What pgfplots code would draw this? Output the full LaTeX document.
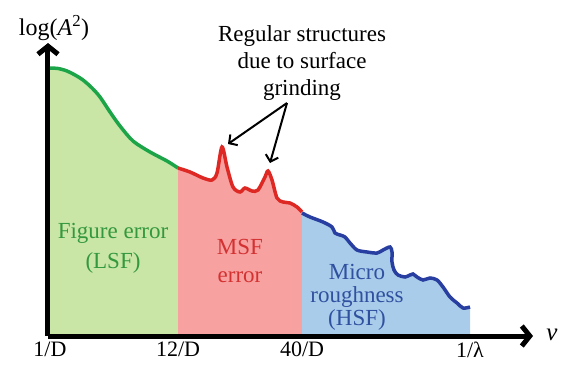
\documentclass[border=0pt]{standalone}
\usepackage{pgfplots}
\pgfplotsset{compat=1.18}
\usetikzlibrary{arrows.meta}
\usepackage{fontspec}
\setmainfont{Liberation Serif}
\definecolor{gfill}{RGB}{201,230,166}
\definecolor{rfill}{RGB}{247,161,161}
\definecolor{bfill}{RGB}{168,204,234}
\definecolor{gline}{RGB}{28,165,72}
\definecolor{rline}{RGB}{222,40,35}
\definecolor{bline}{RGB}{40,62,160}
\definecolor{gtext}{RGB}{52,152,62}
\definecolor{rtext}{RGB}{212,50,50}
\definecolor{btext}{RGB}{48,80,160}
\begin{document}
\begin{tikzpicture}
\begin{axis}[
  x=1pt, y=1pt,
  xmin=48, xmax=533, ymin=29, ymax=322,
  axis lines=left,
  axis on top,
  clip=false,
  axis line style={line width=5pt, -{Straight Barb[length=8pt,width=20pt]}},
  xtick={50,178,302,470},
  xticklabels={1/D,12/D,40/D,1/λ},
  ytick=\empty,
  major tick length=0pt,
  xticklabel style={font=\fontsize{22}{24}\selectfont, anchor=north, yshift=-2pt},
]
\path (axis cs:0,0) rectangle (axis cs:561,365);
% fills
\addplot[draw=none, fill=gfill, smooth, tension=0.5] coordinates {
(48,297)(58,296.5)(67,294)(75,290)(83,285)(92,277)(100,268)(110,253)(120,239)(133,224)(150,213)(167,204)(178,197)} \closedcycle;
\addplot[draw=none, fill=rfill, smooth, tension=0.5] coordinates {
(178,197)(190,193)(203,187)(212,185)(217,192)(222,218)(227,198)(233,178)(240,173)(245,177)(252,174)(258,175)(265,188)(268,194)(272,185)(277,167)(283,163)(290,162)(297,158)(302,153)} \closedcycle;
\addplot[draw=none, fill=bfill, smooth, tension=0.5] coordinates {
(302,152)(310,148)(323,143)(332,138)(335,132)(340,130)(345,128)(350,122)(357,115)(367,113)(377,112)(383,115)(390,118)(392,113)(392,103)(394,95)(398,90)(405,88)(410,90)(413,91)(417,88)(423,85)(430,87)(437,85)(443,78)(450,68)(457,62)(463,57)(470,58)} \closedcycle;
% lines
\addplot[gline, line width=3.5pt, smooth, tension=0.5] coordinates {
(48,297)(58,296.5)(67,294)(75,290)(83,285)(92,277)(100,268)(110,253)(120,239)(133,224)(150,213)(167,204)(178,197)};
\addplot[rline, line width=3.5pt, smooth, tension=0.5] coordinates {
(178,197)(190,193)(203,187)(212,185)(217,192)(222,218)(227,198)(233,178)(240,173)(245,177)(252,174)(258,175)(265,188)(268,194)(272,185)(277,167)(283,163)(290,162)(297,158)(302,153)};
\addplot[bline, line width=3.5pt, smooth, tension=0.5] coordinates {
(302,152)(310,148)(323,143)(332,138)(335,132)(340,130)(345,128)(350,122)(357,115)(367,113)(377,112)(383,115)(390,118)(392,113)(392,103)(394,95)(398,90)(405,88)(410,90)(413,91)(417,88)(423,85)(430,87)(437,85)(443,78)(450,68)(457,62)(463,57)(470,58)};
% text
\node[gtext, align=center, font=\fontsize{23}{30}\selectfont] at (axis cs:113,117) {Figure error\\(LSF)};
\node[rtext, align=center, font=\fontsize{23}{28}\selectfont] at (axis cs:240,104) {MSF\\error};
\node[btext, align=center, font=\fontsize{23}{23}\selectfont] at (axis cs:357,68) {Micro\\roughness\\(HSF)};
\node[align=center, font=\fontsize{23}{27}\selectfont] at (axis cs:302,302) {Regular structures\\due to surface\\grinding};
\node[font=\fontsize{24}{26}\selectfont] at (axis cs:54,337) {log(\textit{A}\textsuperscript{2})};
\node[font=\fontsize{25}{26}\selectfont] at (axis cs:552,30) {\textit{ν}};
\draw[line width=2pt, -{Straight Barb[length=6pt,width=13pt]}] (axis cs:287,262) -- (axis cs:228,221);
\draw[line width=2pt, -{Straight Barb[length=6pt,width=13pt]}] (axis cs:287,262) -- (axis cs:270,202);
\end{axis}
\end{tikzpicture}
\end{document}
